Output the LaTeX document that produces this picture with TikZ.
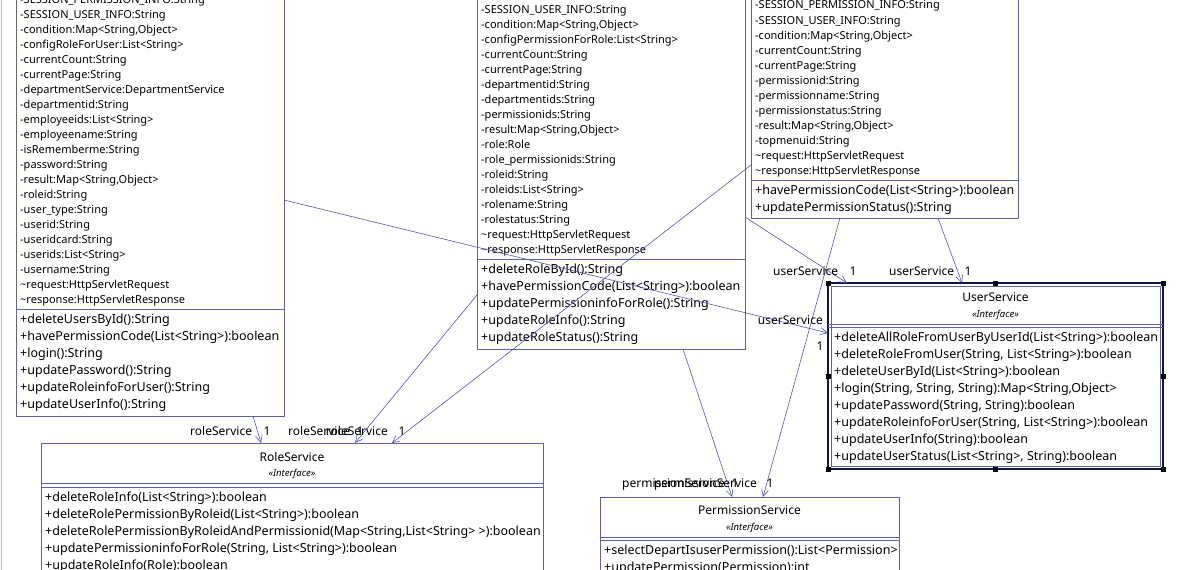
\documentclass[tikz,border=0pt]{standalone}
\usepackage{fontspec}
\setmainfont{Noto Sans}
\usetikzlibrary{arrows.meta}

\definecolor{boxline}{RGB}{96,96,168}
\definecolor{linkline}{RGB}{84,84,176}
\definecolor{selline}{RGB}{20,20,60}

\tikzset{
  classbox/.style={draw=boxline,line width=0.8pt,inner sep=0pt,outer sep=0pt},
  selbox/.style={draw=selline,line width=1.6pt,inner sep=0pt,outer sep=0pt},
  attr/.style={anchor=west,inner sep=0pt,text height=10pt,text depth=2pt,
    font=\fontsize{11}{13}\selectfont},
  meth/.style={anchor=west,inner sep=0pt,text height=11pt,text depth=2.1pt,
    font=\fontsize{12.5}{15}\selectfont},
  lbl/.style={inner sep=0pt,text height=10.6pt,text depth=2pt,
    font=\fontsize{12}{14}\selectfont},
  title/.style={inner sep=0pt,font=\fontsize{12}{14}\selectfont},
  stereo/.style={inner sep=0pt,font=\fontsize{9.5}{11}\itshape},
  link/.style={draw=linkline,line width=0.6pt,-{Straight Barb[length=7pt,width=7pt]}},
  handle/.style={fill=black}
}

\begin{document}
\begin{tikzpicture}[x=1pt,y=-1pt]
\useasboundingbox (0,0) rectangle (1192,570);
\clip (0,0) rectangle (1192,570);
\draw[boxline!45,line width=0.8pt] (1.5,0) -- (1.5,570);

% UserAction (cut at top)
\node[classbox,minimum width=268pt,minimum height=470pt,anchor=south west] (ua) at (16,416) {};
\draw[boxline,line width=0.8pt] (ua.west |- 0,309) -- (ua.east |- 0,309);
\foreach \t [count=\i from 0] in {{-SESSION\_PERMISSION\_INFO:String},{-SESSION\_USER\_INFO:String},
  {-condition:Map<String,Object>},{-configRoleForUser:List<String>},{-currentCount:String},
  {-currentPage:String},{-departmentService:DepartmentService},{-departmentid:String},
  {-employeeids:List<String>},{-employeename:String},{-isRememberme:String},{-password:String},
  {-result:Map<String,Object>},{-roleid:String},{-user\_type:String},{-userid:String},
  {-useridcard:String},{-userids:List<String>},{-username:String},
  {\textasciitilde request:HttpServletRequest},{\textasciitilde response:HttpServletResponse}}
  \node[attr] (ua-a\i) at (20,{-1+15*\i}) {\t};
\foreach \t [count=\i from 0] in {{+deleteUsersById():String},{+havePermissionCode(List<String>):boolean},
  {+login():String},{+updatePassword():String},{+updateRoleinfoForUser():String},{+updateUserInfo():String}}
  \node[meth] (ua-m\i) at (20,{319+17*\i}) {\t};

% RoleAction (cut at top)
\node[classbox,minimum width=268pt,minimum height=380pt,anchor=south west] (ra) at (477,349) {};
\draw[boxline,line width=0.8pt] (ra.west |- 0,259) -- (ra.east |- 0,259);
\foreach \t [count=\i from 0] in {{-SESSION\_PERMISSION\_INFO:String},{-SESSION\_USER\_INFO:String},
  {-condition:Map<String,Object>},{-configPermissionForRole:List<String>},{-currentCount:String},
  {-currentPage:String},{-departmentid:String},{-departmentids:String},{-permissionids:String},
  {-result:Map<String,Object>},{-role:Role},{-role\_permissionids:String},{-roleid:String},
  {-roleids:List<String>},{-rolename:String},{-rolestatus:String},
  {\textasciitilde request:HttpServletRequest},{\textasciitilde response:HttpServletResponse}}
  \node[attr] (ra-a\i) at (481,{-6+15*\i}) {\t};
\foreach \t [count=\i from 0] in {{+deleteRoleById():String},{+havePermissionCode(List<String>):boolean},
  {+updatePermissioninfoForRole():String},{+updateRoleInfo():String},{+updateRoleStatus():String}}
  \node[meth] (ra-m\i) at (481,{269+17*\i}) {\t};

% PermissionAction (cut at top)
\node[classbox,minimum width=267pt,minimum height=250pt,anchor=south west] (pa) at (751,218) {};
\draw[boxline,line width=0.8pt] (pa.west |- 0,180) -- (pa.east |- 0,180);
\foreach \t [count=\i from 0] in {{-SESSION\_PERMISSION\_INFO:String},{-SESSION\_USER\_INFO:String},
  {-condition:Map<String,Object>},{-currentCount:String},{-currentPage:String},{-permissionid:String},
  {-permissionname:String},{-permissionstatus:String},{-result:Map<String,Object>},{-topmenuid:String},
  {\textasciitilde request:HttpServletRequest},{\textasciitilde response:HttpServletResponse}}
  \node[attr] (pa-a\i) at (755,{5+15*\i}) {\t};
\foreach \t [count=\i from 0] in {{+havePermissionCode(List<String>):boolean},{+updatePermissionStatus():String}}
  \node[meth] (pa-m\i) at (755,{190+17*\i}) {\t};

% UserService (selected)
\node[selbox,minimum width=335pt,minimum height=186pt,anchor=north west] (us) at (828,283) {};
\draw[boxline,line width=0.6pt] ([shift={(3,3)}]us.north west) rectangle ([shift={(-3,-3)}]us.south east);
\node[title] (us-t) at (us.north |- 0,297) {UserService};
\node[stereo] (us-s) at (us.north |- 0,315) {«Interface»};
\draw[boxline,line width=0.6pt] (us.west |- 0,324) -- (us.east |- 0,324);
\draw[boxline,line width=0.6pt] (us.west |- 0,327) -- (us.east |- 0,327);
\foreach \t [count=\i from 0] in {{+deleteAllRoleFromUserByUserId(List<String>):boolean},
  {+deleteRoleFromUser(String, List<String>):boolean},{+deleteUserById(List<String>):boolean},
  {+login(String, String, String):Map<String,Object>},{+updatePassword(String, String):boolean},
  {+updateRoleinfoForUser(String, List<String>):boolean},{+updateUserInfo(String):boolean},
  {+updateUserStatus(List<String>, String):boolean}}
  \node[meth] (us-m\i) at (834,{337+17*\i}) {\t};
\foreach \a in {north west,north,north east,east,south east,south,south west,west}
  \fill[handle] (us.\a) +(-2.5,-2.5) rectangle +(2.5,2.5);

% RoleService
\node[classbox,minimum width=502pt,minimum height=140pt,anchor=north west] (rs) at (41,443) {};
\node[title] (rs-t) at (rs.north |- 0,457) {RoleService};
\node[stereo] (rs-s) at (rs.north |- 0,474) {«Interface»};
\draw[boxline,line width=0.6pt] (rs.west |- 0,483) -- (rs.east |- 0,483);
\draw[boxline,line width=0.6pt] (rs.west |- 0,487) -- (rs.east |- 0,487);
\foreach \t [count=\i from 0] in {{+deleteRoleInfo(List<String>):boolean},
  {+deleteRolePermissionByRoleid(List<String>):boolean},
  {+deleteRolePermissionByRoleidAndPermissionid(Map<String,List<String> >):boolean},
  {+updatePermissioninfoForRole(String, List<String>):boolean},{+updateRoleInfo(Role):boolean}}
  \node[meth] (rs-m\i) at (45,{497+17*\i}) {\t};

% PermissionService
\node[classbox,minimum width=299pt,minimum height=90pt,anchor=north west] (ps) at (600,497) {};
\node[title] (ps-t) at (ps.north |- 0,510) {PermissionService};
\node[stereo] (ps-s) at (ps.north |- 0,528) {«Interface»};
\draw[boxline,line width=0.6pt] (ps.west |- 0,537) -- (ps.east |- 0,537);
\draw[boxline,line width=0.6pt] (ps.west |- 0,540) -- (ps.east |- 0,540);
\foreach \t [count=\i from 0] in {{+selectDepartIsuserPermission():List<Permission>},
  {+updatePermission(Permission):int}}
  \node[meth] (ps-m\i) at (604,{550+17*\i}) {\t};

% associations
\draw[link] (ua.east |- 0,200) -- (us.west |- 0,333);
\draw[link] (ra.east |- 0,217) -- (us.north -| 847,0);
\draw[link] (pa.south -| 938,0) -- (us.north -| 962,0);
\draw[link] (ua.south -| 253,0) -- (rs.north -| 261,0);
\draw[link] (ra.west |- 0,295) -- (rs.north -| 355,0);
\draw[link] (pa.west |- 0,165) -- (rs.north -| 392,0);
\draw[link] (ra.south -| 683,0) -- (ps.north -| 732,0);
\draw[link] (pa.south -| 840,0) -- (ps.north -| 763,0);

% role names and multiplicities
\node[lbl,anchor=west] (l-ra-us) at (773,271) {userService};
\node[lbl] (m-ra-us) at (853,271) {1};
\node[lbl,anchor=west] (l-pa-us) at (889,271) {userService};
\node[lbl] (m-pa-us) at (968,271) {1};
\node[lbl,anchor=east] (l-ua-us) at (823,320) {userService};
\node[lbl] (m-ua-us) at (820,346) {1};
\node[lbl,anchor=west] (l-ua-rs) at (190,431) {roleService};
\node[lbl] (m-ua-rs) at (267,431) {1};
\node[lbl,anchor=west] (l-ra-rs) at (288,431) {roleService};
\node[lbl] (m-ra-rs) at (360,431) {1};
\node[lbl,anchor=east] (l-pa-rs) at (388,431) {roleService};
\node[lbl] (m-pa-rs) at (402,431) {1};
\node[lbl,anchor=west] (l-ra-ps) at (622,483) {permissionService};
\node[lbl] (m-ra-ps) at (735,483) {1};
\node[lbl,anchor=east] (l-pa-ps) at (757,483) {permissionService};
\node[lbl] (m-pa-ps) at (770,483) {1};
\end{tikzpicture}
\end{document}
